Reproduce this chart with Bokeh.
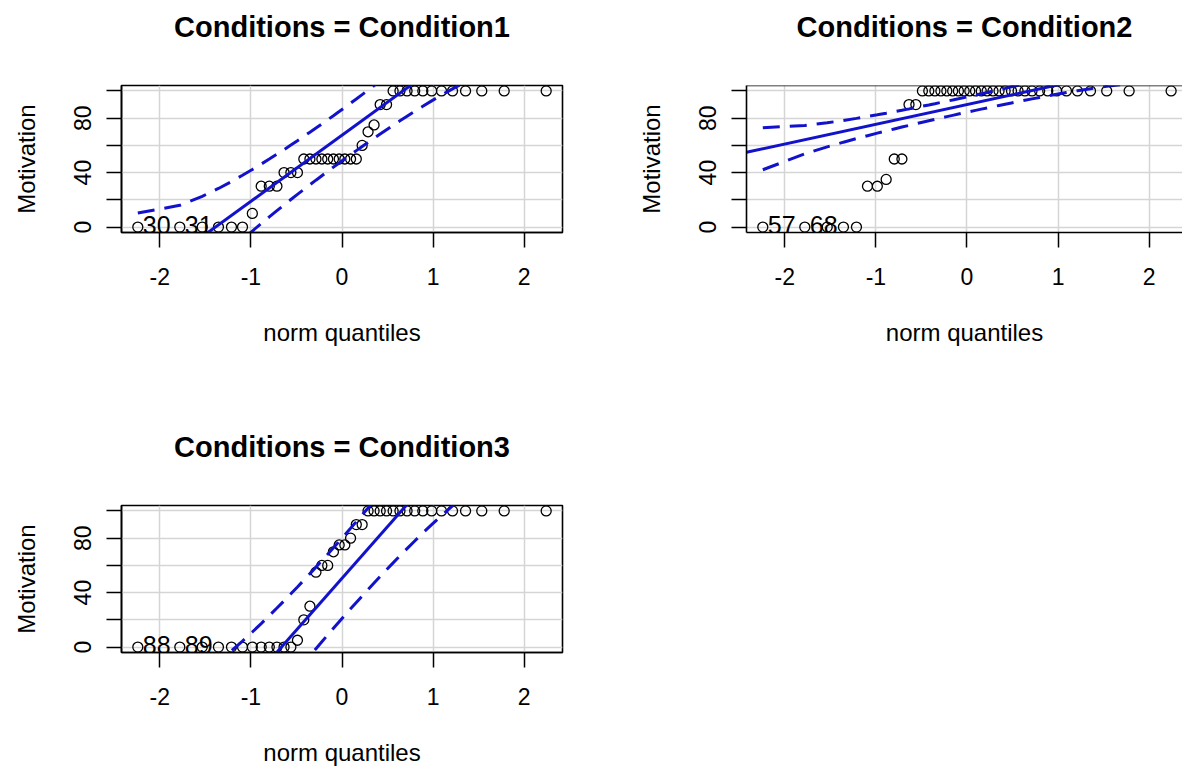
import math
import numpy as np
from bokeh.plotting import figure
from bokeh.models import FixedTicker, Range1d, Span, Title
from bokeh.layouts import column, row
from bokeh.embed import file_html
from bokeh.resources import INLINE
from bokeh.core.properties import value

# ---------------- data ----------------
norm_quantiles = [-2.241, -1.780, -1.534, -1.356, -1.213, -1.092, -0.984, -0.887, -0.798, -0.714,
                  -0.636, -0.561, -0.489, -0.419, -0.352, -0.286, -0.221, -0.157, -0.094, -0.031,
                  0.031, 0.094, 0.157, 0.221, 0.286, 0.352, 0.419, 0.489, 0.561, 0.636,
                  0.714, 0.798, 0.887, 0.984, 1.092, 1.213, 1.356, 1.534, 1.780, 2.241]

condition1 = [0, 0, 0, 0, 0, 0, 10, 30, 30, 30, 40, 40, 40, 50, 50, 50, 50, 50, 50, 50,
              50, 50, 50, 60, 70, 75, 90, 90, 100, 100, 100, 100, 100, 100, 100, 100, 100, 100, 100, 100]
condition2 = [0, 0, 0, 0, 0, 30, 30, 35, 50, 50, 90, 90, 100, 100, 100, 100, 100, 100, 100, 100,
              100, 100, 100, 100, 100, 100, 100, 100, 100, 100, 100, 100, 100, 100, 100, 100, 100, 100, 100, 100]
condition3 = [0, 0, 0, 0, 0, 0, 0, 0, 0, 0, 0, 0, 5, 20, 30, 55, 60, 60, 70, 75,
              75, 80, 90, 90, 100, 100, 100, 100, 100, 100, 100, 100, 100, 100, 100, 100, 100, 100, 100, 100]

titles = ["Conditions = Condition1", "Conditions = Condition2", "Conditions = Condition3"]
point_labels = [["30", "31"], ["57", "68"], ["88", "89"]]
# reference line (intercept, slope)
fit_intercepts = [67.5, 90.0, 50.5]
fit_slopes = [48.6, 14.5, 76.0]
x_ticks = [-2, -1, 0, 1, 2]
y_ticks = [0, 20, 40, 60, 80, 100]
y_tick_labels = {0: "0", 20: "", 40: "40", 60: "", 80: "80", 100: ""}
x_tick_labels = {-2: "-2", -1: "-1", 0: "0", 1: "1", 2: "2"}

FONT = "Liberation Sans"
BLUE = "#1212CC"


def panel(idx, values, width, height, x_end, min_left, min_right, min_top, min_bottom, open_right=False):
    p = figure(width=width, height=height, x_range=Range1d(-2.42, x_end), y_range=Range1d(-4, 104),
               output_backend="svg", toolbar_location=None,
               min_border_left=min_left, min_border_right=min_right,
               min_border_top=min_top, min_border_bottom=min_bottom)
    p.background_fill_color = "white"
    p.border_fill_color = "white"
    # spacer between the title and the box (nearest to the frame)
    p.add_layout(Title(text=" ", text_font_size="2px", standoff=39), "above")
    # title
    p.title.text = titles[idx]
    p.title.text_font = FONT
    p.title.text_font_style = "bold"
    p.title.text_font_size = "29px"
    p.title.align = "center"
    p.title.standoff = 0
    p.title.text_color = "black"
    # box
    if open_right:
        p.outline_line_color = None
        p.add_layout(Span(location=104, dimension="width", line_color="black", line_width=1.6))
    else:
        p.outline_line_color = "black"
        p.outline_line_width = 1.6
        p.outline_line_alpha = 1.0
    # grid
    p.grid.grid_line_color = "#d5d5d5"
    p.grid.grid_line_width = 1.5
    # x axis
    xa = p.xaxis[0]
    xa.ticker = FixedTicker(ticks=x_ticks)
    xa.major_label_overrides = x_tick_labels
    xa.major_tick_out = 15
    xa.major_tick_in = 0
    xa.minor_tick_line_color = None
    xa.major_tick_line_color = "black"
    xa.major_tick_line_width = 1.5
    xa.axis_line_color = "black"
    xa.axis_line_width = 1.6
    xa.major_label_text_font = FONT
    xa.major_label_text_font_size = "23px"
    xa.major_label_text_color = "black"
    xa.major_label_standoff = 20
    xa.axis_label = "norm quantiles"
    xa.axis_label_text_font = FONT
    xa.axis_label_text_font_size = "24px"
    xa.axis_label_text_font_style = "normal"
    xa.axis_label_text_color = "black"
    xa.axis_label_standoff = 31
    # y axis
    ya = p.yaxis[0]
    ya.ticker = FixedTicker(ticks=y_ticks)
    ya.major_label_overrides = y_tick_labels
    ya.major_tick_out = 15
    ya.major_tick_in = 0
    ya.minor_tick_line_color = None
    ya.major_tick_line_color = "black"
    ya.major_tick_line_width = 1.5
    ya.axis_line_color = "black"
    ya.axis_line_width = 1.6
    ya.major_label_text_font = FONT
    ya.major_label_text_font_size = "23px"
    ya.major_label_text_color = "black"
    ya.major_label_orientation = "vertical"
    ya.major_label_standoff = 15
    ya.axis_label = "Motivation"
    ya.axis_label_text_font = FONT
    ya.axis_label_text_font_size = "24px"
    ya.axis_label_text_font_style = "normal"
    ya.axis_label_text_color = "black"
    ya.axis_label_standoff = 32

    z = np.array(norm_quantiles)
    n = len(values)
    a = fit_intercepts[idx]
    b = fit_slopes[idx]
    # points
    p.scatter(norm_quantiles, values, marker="circle", size=10, fill_color=None,
              line_color="black", line_width=1.3)
    # reference line and 95% envelope (car::qqPlot style)
    x0, x1 = -2.42, x_end
    p.line([x0, x1], [a + b * x0, a + b * x1], line_color=BLUE, line_width=3)
    P = (np.arange(1, n + 1) - 0.5) / n
    dens = np.exp(-z ** 2 / 2) / math.sqrt(2 * math.pi)
    se = (b / dens) * np.sqrt(P * (1 - P) / n)
    fit = a + b * z
    p.line(z, fit + 1.96 * se, line_color=BLUE, line_width=3, line_dash="17 10")
    p.line(z, fit - 1.96 * se, line_color=BLUE, line_width=3, line_dash="17 10")
    # labels of the most extreme points
    p.text(x=norm_quantiles[:2], y=values[:2], text=point_labels[idx],
           text_font=value(FONT), text_font_size="25px", text_align="left",
           text_baseline="middle", x_offset=5, y_offset=-2, text_color="black")
    return p


p1 = panel(0, condition1, 625, 420, 2.42, 121, 63, 85, 188)
p2 = panel(1, condition2, 557, 420, 2.366, 121, 0, 85, 188, open_right=True)
p3 = panel(2, condition3, 625, 350, 2.42, 121, 63, 85, 118)

layout = column(row(p1, p2), p3)
open("out.html", "w").write(file_html(layout, INLINE))
